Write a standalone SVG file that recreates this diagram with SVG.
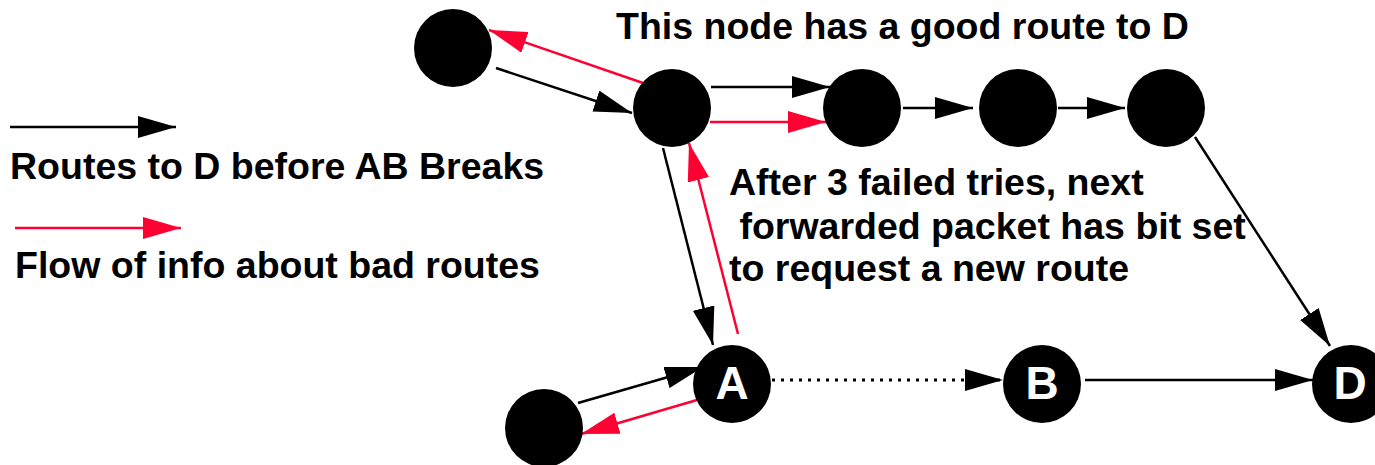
<svg xmlns="http://www.w3.org/2000/svg" width="1375" height="465" viewBox="0 0 1375 465">
  <style>
    .node { fill: #000; }
    .lbl { font-family: "Liberation Sans", Arial, sans-serif; font-weight: bold; fill: #fff; font-size: 46px; text-anchor: middle; }
    .txt { font-family: "Liberation Sans", Arial, sans-serif; font-weight: bold; fill: #000; font-size: 37.5px; }
    .route { stroke: #000; stroke-width: 2.5; fill: none; marker-end: url(#headBlack); }
    .info { stroke: #ff0033; stroke-width: 2.5; fill: none; marker-end: url(#headRed); }
    .broken { stroke: #000; stroke-width: 3; stroke-dasharray: 3 6; fill: none; marker-end: url(#headBlack); }
  </style>
  <defs>
    <marker id="headBlack" markerUnits="userSpaceOnUse" markerWidth="38" markerHeight="22" refX="38" refY="11" orient="auto">
      <path d="M0,0 L38,11 L0,22 z" fill="#000"/>
    </marker>
    <marker id="headRed" markerUnits="userSpaceOnUse" markerWidth="38" markerHeight="22" refX="38" refY="11" orient="auto">
      <path d="M0,0 L38,11 L0,22 z" fill="#ff0033"/>
    </marker>
  </defs>
  <rect width="1375" height="465" fill="#fff"/>

  <!-- legend -->
  <g id="legend">
    <line class="route" x1="10" y1="127" x2="176" y2="127"/>
    <text class="txt" x="10" y="179">Routes to D before AB Breaks</text>
    <line class="info" x1="15" y1="228" x2="181" y2="228"/>
    <text class="txt" x="15" y="278">Flow of info about bad routes</text>
  </g>

  <!-- annotations -->
  <g id="notes">
    <text class="txt" x="616" y="39">This node has a good route to D</text>
    <text class="txt" x="729" y="195">After 3 failed tries, next</text>
    <text class="txt" x="729" y="239" xml:space="preserve"> forwarded packet has bit set</text>
    <text class="txt" x="729" y="281">to request a new route</text>
  </g>

  <!-- connectors -->
  <g id="connectors">
    <line class="route" x1="496" y1="68" x2="632" y2="113"/>
    <line class="info" x1="643" y1="83" x2="489" y2="30"/>
    <line class="route" x1="711" y1="87" x2="830" y2="87"/>
    <line class="info" x1="710" y1="122" x2="826" y2="122"/>
    <line class="route" x1="903" y1="108" x2="973" y2="108"/>
    <line class="route" x1="1058" y1="108" x2="1125" y2="108"/>
    <line class="route" x1="1195" y1="137" x2="1330" y2="346"/>
    <line class="route" x1="663" y1="148" x2="713" y2="345"/>
    <line class="info" x1="738" y1="334" x2="689" y2="143"/>
    <line class="route" x1="578" y1="403" x2="703" y2="367"/>
    <line class="info" x1="697" y1="400" x2="581" y2="434"/>
    <line class="broken" x1="772" y1="380" x2="1003" y2="380"/>
    <line class="route" x1="1085" y1="380" x2="1313" y2="380"/>
  </g>

  <!-- nodes -->
  <g id="n1"><circle class="node" cx="453" cy="48" r="39"/></g>
  <g id="n2"><circle class="node" cx="672" cy="108" r="39"/></g>
  <g id="n3"><circle class="node" cx="862" cy="108" r="39"/></g>
  <g id="n4"><circle class="node" cx="1018" cy="108" r="39"/></g>
  <g id="n5"><circle class="node" cx="1166" cy="108" r="39"/></g>
  <g id="nodeA"><circle class="node" cx="732" cy="384" r="39"/><text class="lbl" x="732" y="399">A</text></g>
  <g id="n6"><circle class="node" cx="544" cy="428" r="39"/></g>
  <g id="nodeB"><circle class="node" cx="1042" cy="384" r="39"/><text class="lbl" x="1042" y="399">B</text></g>
  <g id="nodeD"><circle class="node" cx="1351" cy="384" r="39"/><text class="lbl" x="1350" y="399">D</text></g>
</svg>
